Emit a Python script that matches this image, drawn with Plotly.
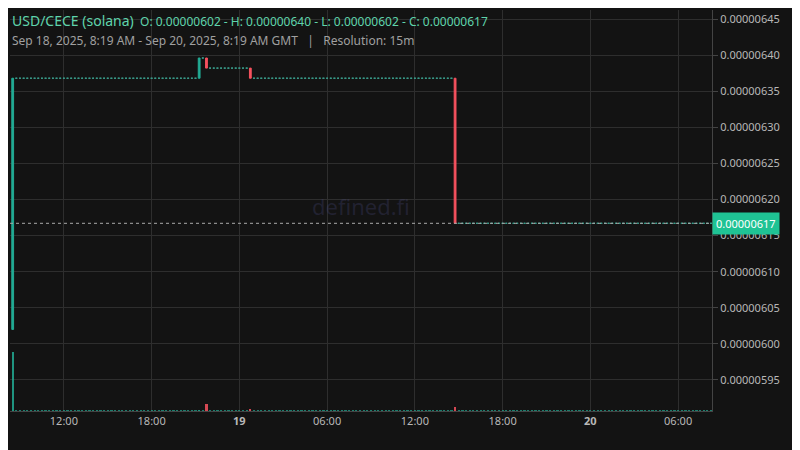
import plotly.graph_objects as go
import pandas as pd

# Event candles (15m); other candles are flat at the previous close
event_times = ["2025-09-18 08:30", "2025-09-18 21:15", "2025-09-18 21:45", "2025-09-19 00:45", "2025-09-19 14:45"]
event_open  = [6.02e-6, 6.368e-6, 6.396e-6, 6.382e-6, 6.368e-6]
event_high  = [6.368e-6, 6.396e-6, 6.396e-6, 6.382e-6, 6.368e-6]
event_low   = [6.02e-6, 6.368e-6, 6.382e-6, 6.368e-6, 6.167e-6]
event_close = [6.368e-6, 6.396e-6, 6.382e-6, 6.368e-6, 6.167e-6]
event_vol   = [1.0, 0.02, 0.12, 0.04, 0.06]
flat_vol = 0.012
last_price = 6.167e-6

times = pd.date_range("2025-09-18 08:30", "2025-09-20 08:15", freq="15min")
ev = {pd.Timestamp(t): i for i, t in enumerate(event_times)}
et, eo, eh, el, ec = [], [], [], [], []
ft, fo = [], []
V, vcol = [], []
prev = event_open[0]
for t in times:
    if t in ev:
        i = ev[t]
        et.append(t); eo.append(event_open[i]); eh.append(event_high[i]); el.append(event_low[i]); ec.append(event_close[i])
        V.append(event_vol[i])
        vcol.append("rgba(34,171,148,0.85)" if event_close[i] >= event_open[i] else "rgba(247,82,95,0.85)")
        prev = event_close[i]
    else:
        ft.append(t); fo.append(prev)
        V.append(flat_vol); vcol.append("rgba(34,171,148,0.7)")

up, dn = "#22ab94", "#f7525f"

fig = go.Figure()
fig.add_trace(go.Bar(x=times, y=V, marker_color=vcol, marker_line_width=0, yaxis="y2", width=9*60*1000))
fig.add_trace(go.Candlestick(x=ft, open=fo, high=fo, low=fo, close=fo,
    increasing=dict(line=dict(color="#3a9c8a", width=1)),
    decreasing=dict(line=dict(color="#3a9c8a", width=1)), whiskerwidth=0))
fig.add_trace(go.Candlestick(x=et, open=eo, high=eh, low=el, close=ec,
    increasing=dict(line=dict(color=up, width=1), fillcolor=up),
    decreasing=dict(line=dict(color=dn, width=1), fillcolor=dn), whiskerwidth=0))

fig.add_shape(type="line", xref="paper", x0=0, x1=1, y0=last_price, y1=last_price,
              line=dict(color="#aaaaaa", width=1, dash="dot"))

tickv = ["2025-09-18 12:00", "2025-09-18 18:00", "2025-09-19 00:00", "2025-09-19 06:00", "2025-09-19 12:00",
         "2025-09-19 18:00", "2025-09-20 00:00", "2025-09-20 06:00"]
tickt = ["12:00", "18:00", "<b>19</b>", "06:00", "12:00", "18:00", "<b>20</b>", "06:00"]

fig.update_layout(
    width=800, height=450, paper_bgcolor="#131313", plot_bgcolor="#131313",
    margin=dict(l=2, r=96, t=2, b=47, autoexpand=False), showlegend=False, bargap=0,
    font=dict(family="Noto Sans", color="#b8b8b8", size=11),
    xaxis=dict(range=["2025-09-18 08:19", "2025-09-20 08:19"], rangeslider=dict(visible=False),
               tickvals=tickv, ticktext=tickt, showgrid=True, gridcolor="#2e2e2e",
               showline=True, linecolor="#444", ticks="", zeroline=False),
    yaxis=dict(side="right", range=[5.907e-6, 6.4625e-6], tickvals=[5.95e-6 + i*0.05e-6 for i in range(11)],
               tickformat=".8f", gridcolor="#2e2e2e", showline=True, linecolor="#444",
               ticks="outside", ticklen=5, tickcolor="#444", zeroline=False),
    yaxis2=dict(overlaying="y", range=[0, 6.8], visible=False),
)
fig.add_annotation(xref="paper", yref="paper", x=0.5, y=0.51, text="defined.fi", showarrow=False,
                   font=dict(size=22, color="rgba(80,80,140,0.25)"))
fig.add_annotation(xref="paper", x=1.0, y=last_price, xanchor="left", text="0.00000617", showarrow=False,
                   bgcolor="#1fc394", font=dict(color="#ffffff", size=11), borderpad=3, xshift=0)
fig.add_annotation(xref="paper", yref="paper", x=0, y=0.975, xanchor="left", yanchor="middle", showarrow=False,
                   text="<span style='font-size:14px'>USD/CECE (solana)</span>  O: 0.00000602 - H: 0.00000640 - L: 0.00000602 - C: 0.00000617",
                   font=dict(color="#5fd4ac", size=12))
fig.add_annotation(xref="paper", yref="paper", x=0, y=0.925, xanchor="left", yanchor="middle", showarrow=False,
                   text="Sep 18, 2025, 8:19 AM - Sep 20, 2025, 8:19 AM GMT   |   Resolution: 15m",
                   font=dict(color="#a0a0a0", size=12))
fig.write_html("out.html")
